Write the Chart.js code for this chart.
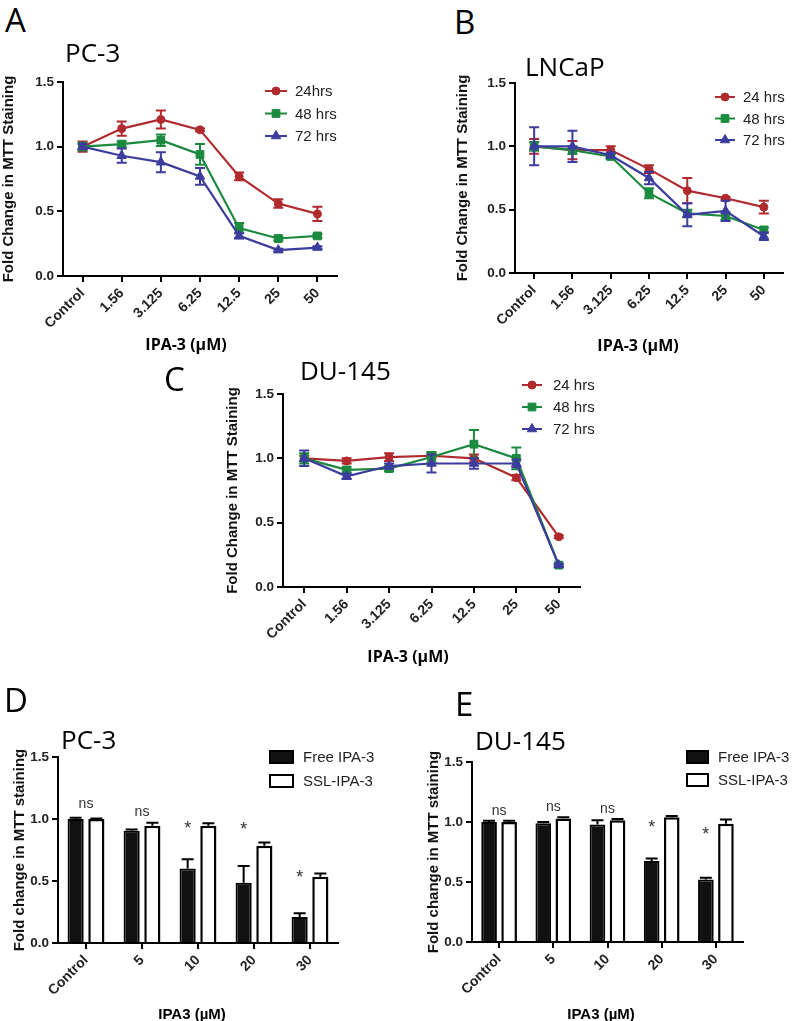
<!DOCTYPE html>
<html>
<head>
<meta charset="utf-8">
<script src="https://cdn.jsdelivr.net/npm/chart.js@4.4.0/dist/chart.umd.min.js"></script>
<style>
  body { margin: 0; background: #fff; }
  #page { position: relative; width: 792px; height: 1021px; overflow: hidden; }
  #page canvas { position: absolute; }
  .txt { position: absolute; white-space: nowrap; line-height: 1; color: #000; }
  .letter { font: 33px "Open Sans", sans-serif; }
  .title { font: 26px "Open Sans", sans-serif; }
  .xt { font: bold 16px "Open Sans", sans-serif; transform: translateX(-50%); }
  .xt2 { font: bold 15px "Liberation Sans", Arial, sans-serif; transform: translateX(-50%); }
</style>
</head>
<body>
<div id="page">
  <canvas id="chartA" width="395" height="300" style="left:0px;top:60px"></canvas>
  <canvas id="chartB" width="342" height="300" style="left:450px;top:60px"></canvas>
  <canvas id="chartC" width="380" height="300" style="left:220px;top:350px"></canvas>
  <canvas id="chartD" width="395" height="321" style="left:0px;top:700px"></canvas>
  <canvas id="chartE" width="372" height="321" style="left:420px;top:700px"></canvas>

  <div class="txt letter" style="left:5px;top:-3px">A</div>
  <div class="txt letter" style="left:454px;top:-1px">B</div>
  <div class="txt letter" style="left:164px;top:356px">C</div>
  <div class="txt letter" style="left:4px;top:677px">D</div>
  <div class="txt letter" style="left:455px;top:681px">E</div>

  <div class="txt title" style="left:65px;top:34px">PC-3</div>
  <div class="txt title" style="left:525px;top:48px">LNCaP</div>
  <div class="txt title" style="left:300px;top:352px">DU-145</div>
  <div class="txt title" style="left:61px;top:721px">PC-3</div>
  <div class="txt title" style="left:475px;top:722px">DU-145</div>

  <div class="txt xt" style="left:186px;top:333px">IPA-3 (µM)</div>
  <div class="txt xt" style="left:638px;top:334px">IPA-3 (µM)</div>
  <div class="txt xt" style="left:408px;top:645px">IPA-3 (µM)</div>
  <div class="txt xt2" style="left:192px;top:1005px">IPA3 (µM)</div>
  <div class="txt xt2" style="left:601px;top:1005px">IPA3 (µM)</div>
</div>

<script>
// ---- data ----
const doseLabels = ["Control", "1.56", "3.125", "6.25", "12.5", "25", "50"];
const namesA = ["24hrs", "48 hrs", "72 hrs"];
const namesBC = ["24 hrs", "48 hrs", "72 hrs"];

// A: PC-3
const a24 = [1.00, 1.14, 1.21, 1.13, 0.77, 0.56, 0.48];
const a24Err = [0.04, 0.055, 0.07, 0.01, 0.03, 0.033, 0.055];
const a48 = [1.00, 1.02, 1.05, 0.94, 0.37, 0.29, 0.31];
const a48Err = [0.03, 0.02, 0.045, 0.08, 0.04, 0.015, 0.015];
const a72 = [1.00, 0.93, 0.88, 0.77, 0.31, 0.20, 0.22];
const a72Err = [0.02, 0.055, 0.077, 0.065, 0.02, 0.01, 0.01];

// B: LNCaP
const b24 = [1.00, 0.97, 0.97, 0.82, 0.65, 0.59, 0.52];
const b24Err = [0.058, 0.072, 0.03, 0.03, 0.10, 0.01, 0.05];
const b48 = [1.00, 0.97, 0.92, 0.63, 0.47, 0.45, 0.34];
const b48Err = [0.035, 0.03, 0.02, 0.04, 0.03, 0.03, 0.02];
const b72 = [1.00, 1.00, 0.93, 0.75, 0.46, 0.49, 0.29];
const b72Err = [0.15, 0.124, 0.02, 0.05, 0.09, 0.08, 0.03];

// C: DU-145
const c24 = [1.00, 0.98, 1.01, 1.02, 1.00, 0.85, 0.39];
const c24Err = [0.02, 0.02, 0.03, 0.02, 0.03, 0.02, 0.01];
const c48 = [1.00, 0.91, 0.92, 1.01, 1.11, 1.00, 0.17];
const c48Err = [0.04, 0.02, 0.02, 0.04, 0.11, 0.085, 0.01];
const c72 = [1.00, 0.86, 0.94, 0.96, 0.96, 0.96, 0.17];
const c72Err = [0.06, 0.02, 0.02, 0.07, 0.04, 0.03, 0.01];

// D / E: bar charts
const barLabels = ["Control", "5", "10", "20", "30"];
const barNames = ["Free IPA-3", "SSL-IPA-3"];

const dFree = [1.00, 0.905, 0.60, 0.485, 0.21];
const dFreeErr = [0.01, 0.01, 0.075, 0.135, 0.03];
const dSSL = [1.00, 0.945, 0.945, 0.785, 0.535];
const dSSLErr = [0.005, 0.025, 0.02, 0.025, 0.025];
const dNoteText = ["ns", "ns", "*", "*", "*"];
const dNoteY = [1.09, 1.024, 0.879, 0.871, 0.484];

const eFree = [1.00, 0.99, 0.98, 0.675, 0.52];
const eFreeErr = [0.01, 0.01, 0.035, 0.02, 0.015];
const eSSL = [1.00, 1.03, 1.015, 1.04, 0.985];
const eSSLErr = [0.01, 0.01, 0.01, 0.01, 0.035];
const eNoteText = ["ns", "ns", "ns", "*", "*"];
const eNoteY = [1.058, 1.094, 1.072, 0.908, 0.85];

const lineColors = ["#b02a2e", "#1c8a3e", "#3c3c9e"];
const markers = ["circle", "rect", "triangle"];
const markerSize = [4, 5.5, 5.5];

Chart.defaults.font.family = '"Liberation Sans", Arial, sans-serif';

// Draw error bars (both directions for lines, up only for bars)
const drawErrors = (chart, index, meta) => {
  const ds = chart.data.datasets[index];
  if (!ds.errors) return;
  const yScale = chart.scales.y;
  const ctx = chart.ctx;
  const upOnly = chart.config.type === "bar";
  ctx.save();
  ctx.strokeStyle = ds.errorColor || ds.borderColor;
  ctx.lineWidth = 2;
  meta.data.forEach((el, i) => {
    const v = ds.data[i];
    const e = ds.errors[i];
    const top = yScale.getPixelForValue(v + e);
    const bot = upOnly ? el.y : yScale.getPixelForValue(v - e);
    const cap = ds.capWidth || 5;
    ctx.beginPath();
    ctx.moveTo(el.x, top);
    ctx.lineTo(el.x, bot);
    ctx.moveTo(el.x - cap, top);
    ctx.lineTo(el.x + cap, top);
    if (!upOnly) {
      ctx.moveTo(el.x - cap, bot);
      ctx.lineTo(el.x + cap, bot);
    }
    ctx.stroke();
  });
  ctx.restore();
};

const errorBars = {
  id: "errorBars",
  beforeDatasetDraw(chart, args) {
    if (chart.config.type === "line") drawErrors(chart, args.index, args.meta);
  },
  afterDatasetDraw(chart, args) {
    if (chart.config.type === "bar") drawErrors(chart, args.index, args.meta);
  },
};

// Legend drawn by hand (line through marker / outlined box)
const seriesKey = {
  id: "seriesKey",
  afterDraw(chart, args, opts) {
    if (opts.x === undefined) return;
    const ctx = chart.ctx;
    ctx.save();
    ctx.font = opts.font;
    ctx.textBaseline = "middle";
    chart.data.datasets.forEach((ds, i) => {
      const y = opts.y + i * opts.dy;
      if (opts.kind === "line") {
        ctx.strokeStyle = ds.borderColor;
        ctx.fillStyle = ds.borderColor;
        ctx.lineWidth = 2;
        ctx.beginPath();
        ctx.moveTo(opts.x, y);
        ctx.lineTo(opts.x + opts.len, y);
        ctx.stroke();
        ctx.lineWidth = 1;
        Chart.helpers.drawPoint(ctx, { pointStyle: ds.pointStyle, radius: ds.pointRadius, rotation: 0, borderWidth: 1 }, opts.x + opts.len / 2, y);
      } else {
        ctx.fillStyle = ds.backgroundColor;
        ctx.fillRect(opts.x, y - opts.h / 2, opts.len, opts.h);
        ctx.strokeStyle = "#000";
        ctx.lineWidth = 2;
        ctx.strokeRect(opts.x, y - opts.h / 2, opts.len, opts.h);
      }
      ctx.fillStyle = "#222";
      ctx.fillText(ds.label, opts.textX, y + 1);
    });
    ctx.restore();
  },
};

// "ns" / "*" labels above bar groups
const sigMarks = {
  id: "sigMarks",
  afterDatasetsDraw(chart, args, opts) {
    if (!opts.text) return;
    const ctx = chart.ctx;
    const xScale = chart.scales.x;
    const yScale = chart.scales.y;
    const freeBars = chart.getDatasetMeta(0).data;
    ctx.save();
    ctx.textAlign = "center";
    ctx.textBaseline = "alphabetic";
    ctx.fillStyle = "#333";
    opts.text.forEach((t, i) => {
      const star = t === "*";
      ctx.font = star ? '18px "Liberation Sans", Arial' : '14px "Liberation Sans", Arial';
      const px = star ? freeBars[i].x : xScale.getPixelForValue(i);
      ctx.fillText(t, px, yScale.getPixelForValue(opts.y[i]));
    });
    ctx.restore();
  },
};

const buildScales = (g) => ({
  x: {
    type: "category",
    offset: true,
    grid: { offset: false, drawOnChartArea: false, color: "#000", lineWidth: 2, tickLength: 6 },
    border: { color: "#000", width: 2 },
    ticks: { minRotation: 45, maxRotation: 45, autoSkip: false, padding: 3, color: "#222", font: { weight: "bold", size: 14 } },
    afterFit: (s) => { s.height = g.xh; },
  },
  y: {
    min: 0,
    max: 1.5,
    ticks: { stepSize: 0.5, callback: (v) => v.toFixed(1), padding: 3, color: "#222", font: { weight: "bold", size: 13.5 } },
    grid: { drawOnChartArea: false, color: "#000", lineWidth: 2, tickLength: 6 },
    border: { color: "#000", width: 2 },
    title: { display: true, text: g.ytitle, color: "#111", font: { weight: "bold", size: 15 }, padding: { top: g.tp, bottom: 0 } },
    afterFit: (s) => { s.width = g.yw; },
  },
});

const baseOptions = (g, key, marks) => ({
  responsive: false,
  animation: false,
  devicePixelRatio: 1,
  events: [],
  layout: { padding: { left: 0, top: g.pt, right: g.pr, bottom: 0 } },
  plugins: { legend: { display: false }, tooltip: { enabled: false }, seriesKey: key, sigMarks: marks || {} },
  scales: buildScales(g),
});

const makeLineChart = (id, series, errs, names, g, key) => {
  new Chart(document.getElementById(id), {
    type: "line",
    data: {
      labels: doseLabels,
      datasets: names.map((name, k) => ({
        label: name,
        data: series[k],
        errors: errs[k],
        borderColor: lineColors[k],
        backgroundColor: lineColors[k],
        pointStyle: markers[k],
        pointRadius: markerSize[k],
        pointBorderWidth: 1,
        borderWidth: 2.2,
        tension: 0,
        order: 2 - k,
      })),
    },
    options: baseOptions(g, key),
    plugins: [errorBars, seriesKey],
  });
};

const makeBarChart = (id, free, freeErr, ssl, sslErr, g, key, marks) => {
  new Chart(document.getElementById(id), {
    type: "bar",
    data: {
      labels: barLabels,
      datasets: [
        { label: barNames[0], data: free, errors: freeErr, errorColor: "#000", capWidth: 6,
          backgroundColor: "#111", borderColor: "#000", borderWidth: 2 },
        { label: barNames[1], data: ssl, errors: sslErr, errorColor: "#000", capWidth: 6,
          backgroundColor: "#fff", borderColor: "#000", borderWidth: 2.5 },
      ],
    },
    options: Object.assign(baseOptions(g, key, marks), {
      datasets: { bar: { categoryPercentage: 0.74, barPercentage: 0.78 } },
    }),
    plugins: [errorBars, seriesKey, sigMarks],
  });
};

const lineKeyFont = '15px "Liberation Sans", Arial';

makeLineChart("chartA", [a24, a48, a72], [a24Err, a48Err, a72Err], namesA,
  { yw: 63, xh: 84, pt: 22, pr: 58, tp: 0, ytitle: "Fold Change in MTT Staining" },
  { kind: "line", x: 265, len: 22, textX: 295, y: 31, dy: 22.5, font: lineKeyFont });

makeLineChart("chartB", [b24, b48, b72], [b24Err, b48Err, b72Err], namesBC,
  { yw: 65, xh: 87, pt: 23, pr: 9, tp: 3.5, ytitle: "Fold Change in MTT Staining" },
  { kind: "line", x: 265, len: 20, textX: 293, y: 37, dy: 21.5, font: lineKeyFont });

makeLineChart("chartC", [c24, c48, c72], [c24Err, c48Err, c72Err], namesBC,
  { yw: 63, xh: 63, pt: 44, pr: 20, tp: 4, ytitle: "Fold Change in MTT Staining" },
  { kind: "line", x: 302, len: 20, textX: 333, y: 35, dy: 22, font: lineKeyFont });

makeBarChart("chartD", dFree, dFreeErr, dSSL, dSSLErr,
  { yw: 58, xh: 78, pt: 57, pr: 57, tp: 10.5, ytitle: "Fold change in MTT staining" },
  { kind: "box", x: 270, len: 23, h: 12, textX: 303, y: 57, dy: 24, font: lineKeyFont },
  { text: dNoteText, y: dNoteY });

makeBarChart("chartE", eFree, eFreeErr, eSSL, eSSLErr,
  { yw: 52, xh: 79, pt: 62, pr: 49, tp: 4.5, ytitle: "Fold change in MTT staining" },
  { kind: "box", x: 267, len: 21, h: 12, textX: 298, y: 57, dy: 23, font: lineKeyFont },
  { text: eNoteText, y: eNoteY });
</script>
</body>
</html>
